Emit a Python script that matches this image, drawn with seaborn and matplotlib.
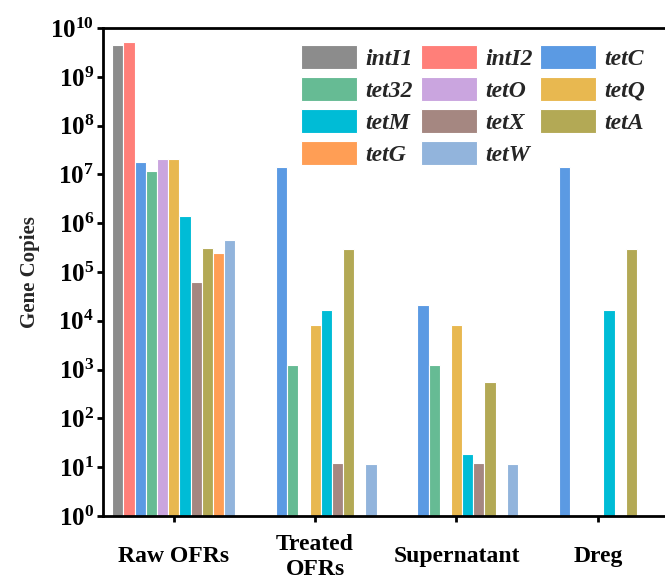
import numpy as np
import pandas as pd
import matplotlib
matplotlib.use("Agg")
import matplotlib.pyplot as plt
import seaborn as sns

sns.set_style("ticks")
plt.rcParams['font.family'] = ['Liberation Serif', 'DejaVu Serif']
plt.rcParams['font.weight'] = 'bold'
plt.rcParams['axes.labelweight'] = 'bold'

samples = ["Raw OFRs", "Treated\nOFRs", "Supernatant", "Dreg"]
genes = ["intI1", "intI2", "tetC", "tet32", "tetO", "tetQ", "tetM", "tetX", "tetA", "tetG", "tetW"]
colors = ["#8c8c8c", "#ff7f79", "#5b9ae3", "#66bb94", "#caa5df", "#e8b850",
          "#00bcd6", "#a58781", "#b3a955", "#ff9e55", "#92b4dc"]

nan = np.nan
raw_ofrs    = [4.6e9, 5.3e9, 1.8e7, 1.15e7, 2.1e7, 2.1e7, 1.4e6, 6.3e4, 3.1e5, 2.5e5, 4.5e5]
treated     = [nan, nan, 1.4e7, 1.25e3, nan, 8.2e3, 1.7e4, 12, 3.0e5, nan, 11.5]
supernatant = [nan, nan, 2.1e4, 1.25e3, nan, 8.2e3, 18.5, 12, 550, nan, 11.5]
dreg        = [nan, nan, 1.4e7, nan, nan, nan, 1.7e4, nan, 3.0e5, nan, nan]

rows = []
for s, vals in zip(samples, [raw_ofrs, treated, supernatant, dreg]):
    for g, v in zip(genes, vals):
        rows.append({"Sample": s, "Gene": g, "Copies": v})
df = pd.DataFrame(rows)

fig = plt.figure(figsize=(6.65, 5.85), dpi=100)
ax = fig.add_axes([0.155, 0.118, 0.845, 0.834])

sns.barplot(data=df, x="Sample", y="Copies", hue="Gene", order=samples,
            hue_order=genes, palette=colors, width=0.87, dodge=True,
            edgecolor="white", linewidth=0.8, saturation=1, ax=ax, legend=True)

ax.set_yscale("log")
ax.set_ylim(1, 1e10)
ax.set_xlim(-0.5, 3.475)
ax.set_yticks([10.0**k for k in range(11)])
ax.minorticks_off()
ax.set_xlabel("")
ax.set_ylabel("Gene Copies", fontsize=15, fontweight='bold', labelpad=7)

for sp in ["left", "bottom", "top"]:
    ax.spines[sp].set_linewidth(2.0)
    ax.spines[sp].set_color("black")
ax.spines["right"].set_visible(False)
ax.tick_params(axis="both", direction="out", length=4.5, width=2, colors="black")
ax.tick_params(axis="y", labelsize=18, pad=2)
ax.tick_params(axis="x", labelsize=17, pad=25)
for lab in ax.get_xticklabels():
    lab.set_fontweight('bold')
    lab.set_verticalalignment('center')
for lab in ax.get_yticklabels():
    lab.set_fontweight('bold')

handles, labels = ax.get_legend_handles_labels()
hmap = dict(zip(labels, handles))
col_order = ["intI1", "tet32", "tetM", "tetG", "intI2", "tetO", "tetX", "tetW", "tetC", "tetQ", "tetA"]
ax.legend([hmap[g] for g in col_order], col_order, ncol=3, loc="upper right",
          bbox_to_anchor=(0.99, 0.995), frameon=False,
          prop={"family": "Liberation Serif", "style": "italic", "weight": "bold", "size": 17},
          handlelength=2.37, handleheight=1.19, handletextpad=0.34, columnspacing=0.34,
          labelspacing=0.3, borderaxespad=0.2)

fig.savefig("out.png", dpi=100)
